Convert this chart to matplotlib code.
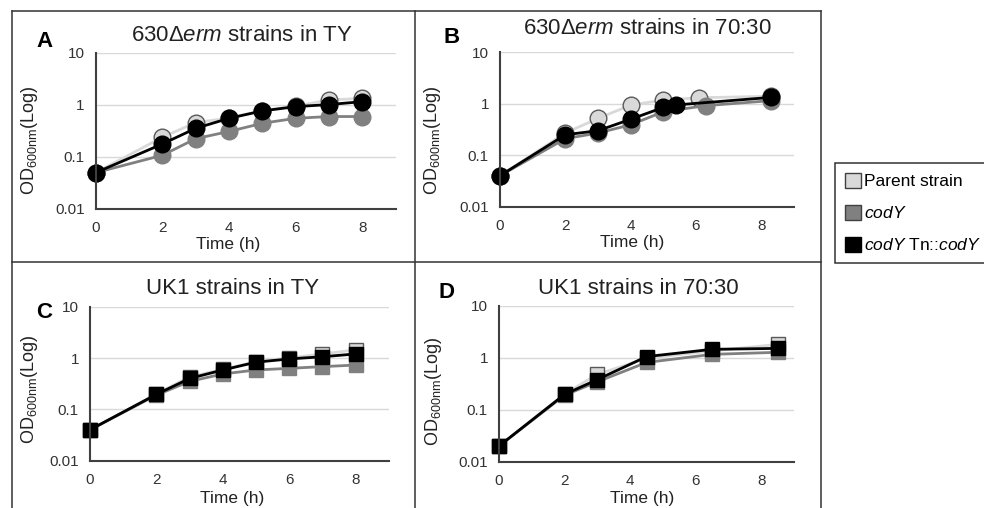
import numpy as np
import matplotlib
matplotlib.use("Agg")
import matplotlib.pyplot as plt
from matplotlib.lines import Line2D
from matplotlib.patches import Patch

plt.rcParams["font.family"] = "Liberation Sans"
plt.rcParams["mathtext.fontset"] = "custom"
plt.rcParams["mathtext.rm"] = "Liberation Sans"
plt.rcParams["mathtext.it"] = "Liberation Sans:italic"
plt.rcParams["mathtext.bf"] = "Liberation Sans:bold"

# ---- data (OD600) ----
time_a = [0, 2, 3, 4, 5, 6, 7, 8]
parent_a = [0.05, 0.24, 0.46, 0.56, 0.78, 0.95, 1.25, 1.34]
cody_a = [0.05, 0.108, 0.225, 0.31, 0.445, 0.555, 0.60, 0.60]
comp_a = [0.05, 0.178, 0.356, 0.555, 0.77, 0.93, 1.02, 1.16]

time_b_parent = [0, 2, 3, 4, 5, 6.1, 8.3]
parent_b = [0.04, 0.27, 0.52, 0.94, 1.18, 1.31, 1.40]
time_b_cody = [0, 2, 3, 4, 5, 6.3, 8.3]
cody_b = [0.04, 0.21, 0.27, 0.39, 0.70, 0.92, 1.15]
time_b_comp = [0, 2, 3, 4, 5, 5.4, 8.3]
comp_b = [0.04, 0.25, 0.30, 0.50, 0.85, 0.95, 1.33]

time_c = [0, 2, 3, 4, 5, 6, 7, 8]
parent_c = [0.04, 0.20, 0.43, 0.60, 0.85, 1.00, 1.20, 1.44]
cody_c = [0.04, 0.19, 0.35, 0.49, 0.585, 0.63, 0.68, 0.73]
comp_c = [0.04, 0.196, 0.40, 0.585, 0.83, 0.96, 1.06, 1.20]

time_d = [0, 2, 3, 4.5, 6.5, 8.5]
parent_d = [0.02, 0.20, 0.48, 0.97, 1.35, 1.80]
cody_d = [0.02, 0.19, 0.345, 0.81, 1.16, 1.27]
comp_d = [0.02, 0.197, 0.38, 1.05, 1.45, 1.51]

titles = [r"630Δ$\mathit{erm}$ strains in TY", r"630Δ$\mathit{erm}$ strains in 70:30",
          "UK1 strains in TY", "UK1 strains in 70:30"]
letters = ["A", "B", "C", "D"]
legend_labels = ["Parent strain", r"$\mathit{codY}$", r"$\mathit{codY}$ Tn::$\mathit{codY}$"]
xticks = [0, 2, 4, 6, 8]
yticks = [0.01, 0.1, 1, 10]
yticklabels = ["0.01", "0.1", "1", "10"]

W, H = 984, 508


def fx(x):
    return x / W


def fy(y):
    return 1 - y / H


fig = plt.figure(figsize=(9.84, 5.08), dpi=100)

# axes rectangles in pixels: left, right, top, bottom
boxes = [(95.7, 395.7, 53, 209), (500, 794, 52.3, 206.7),
         (90, 388.8, 306.7, 460.7), (499, 794.2, 305.7, 461.7)]
axes = []
for l, r, t, b in boxes:
    axes.append(fig.add_axes([fx(l), fy(b), (r - l) / W, (b - t) / H]))

c_par, c_cod, c_comp = "#d9d9d9", "#808080", "#000000"
e_par = "#595959"

ax1, ax2, ax3, ax4 = axes
kw = dict(lw=2, clip_on=False)
ax1.plot(time_a, parent_a, "-o", color=c_par, mfc=c_par, mec=e_par, mew=1, ms=12, **kw)
ax1.plot(time_a, cody_a, "-o", color=c_cod, mfc=c_cod, mec=c_cod, ms=12, **kw)
ax1.plot(time_a, comp_a, "-o", color=c_comp, mfc=c_comp, mec=c_comp, ms=12, **kw)

ax2.plot(time_b_parent, parent_b, "-o", color=c_par, mfc=c_par, mec=e_par, mew=1, ms=12, **kw)
ax2.plot(time_b_cody, cody_b, "-o", color=c_cod, mfc=c_cod, mec=c_cod, ms=12, **kw)
ax2.plot(time_b_comp, comp_b, "-o", color=c_comp, mfc=c_comp, mec=c_comp, ms=12, **kw)

ax3.plot(time_c, parent_c, "-s", color=c_par, mfc=c_par, mec=e_par, mew=1, ms=10, **kw)
ax3.plot(time_c, cody_c, "-s", color=c_cod, mfc=c_cod, mec=c_cod, ms=10, **kw)
ax3.plot(time_c, comp_c, "-s", color=c_comp, mfc=c_comp, mec=c_comp, ms=10, **kw)

ax4.plot(time_d, parent_d, "-s", color=c_par, mfc=c_par, mec=e_par, mew=1, ms=10, **kw)
ax4.plot(time_d, cody_d, "-s", color=c_cod, mfc=c_cod, mec=c_cod, ms=10, **kw)
ax4.plot(time_d, comp_d, "-s", color=c_comp, mfc=c_comp, mec=c_comp, ms=10, **kw)

for ax in axes:
    ax.set_yscale("log")
    ax.set_xlim(0, 9)
    ax.set_ylim(0.01, 10)
    ax.set_xticks(xticks)
    ax.set_yticks(yticks)
    ax.set_yticklabels(yticklabels)
    ax.minorticks_off()
    ax.tick_params(length=0, labelsize=11, colors="#333333", pad=9)
    ax.tick_params(axis="y", pad=8)
    for s in ["top", "right"]:
        ax.spines[s].set_visible(False)
    for s in ["left", "bottom"]:
        ax.spines[s].set_color("#404040")
        ax.spines[s].set_linewidth(1.5)
    for v in [0.1, 1, 10]:
        ax.axhline(v, color="#d9d9d9", lw=1, zorder=0)

# titles (center x, baseline y)
title_pos = [(242, 40.7), (647, 34.3), (232.5, 294.5), (638.7, 294)]
for (x, y), t in zip(title_pos, titles):
    fig.text(fx(x), fy(y), t, ha="center", va="baseline", fontsize=16, color="#222222")

letter_pos = [(44.5, 46.7), (451.7, 43.3), (44, 318), (446, 298)]
for (x, y), t in zip(letter_pos, letters):
    fig.text(fx(x), fy(y), t, ha="center", va="baseline", fontsize=16, fontweight="bold")

ylab_pos = [(30, 140), (432.5, 140), (30, 389), (433, 391)]
for x, y in ylab_pos:
    fig.text(fx(x), fy(y), r"OD$_{\mathregular{600nm}}$(Log)", rotation=90,
             ha="center", va="center", fontsize=13, color="#222222")

xlab_pos = [(228, 244), (632, 242.5), (231.7, 499), (642, 498)]
for x, y in xlab_pos:
    fig.text(fx(x), fy(y), "Time (h)", ha="center", va="center", fontsize=12.5, color="#222222")

# panel borders
bc = "#333333"
fig.add_artist(Line2D([fx(12), fx(820.7)], [fy(11), fy(11)], color=bc, lw=1.1))
fig.add_artist(Line2D([fx(12), fx(820.7)], [fy(262), fy(262)], color=bc, lw=1.1))
for x in [12, 415, 820.7]:
    fig.add_artist(Line2D([fx(x), fx(x)], [fy(11), 0], color=bc, lw=1.1))

handles = [Patch(facecolor=c_par, edgecolor="#404040", lw=1),
           Patch(facecolor=c_cod, edgecolor="#404040", lw=1),
           Patch(facecolor=c_comp, edgecolor="#000000", lw=1)]
leg = fig.legend(handles, legend_labels, loc="upper left", bbox_to_anchor=(fx(835), fy(163)),
                 borderaxespad=0, fontsize=12.5, handlelength=0.95, handleheight=0.95,
                 handletextpad=0.15, labelspacing=0.9, fancybox=False, borderpad=0.55,
                 edgecolor="#333333", framealpha=1)
leg.get_frame().set_linewidth(1.1)

fig.savefig("out.png", dpi=100)
